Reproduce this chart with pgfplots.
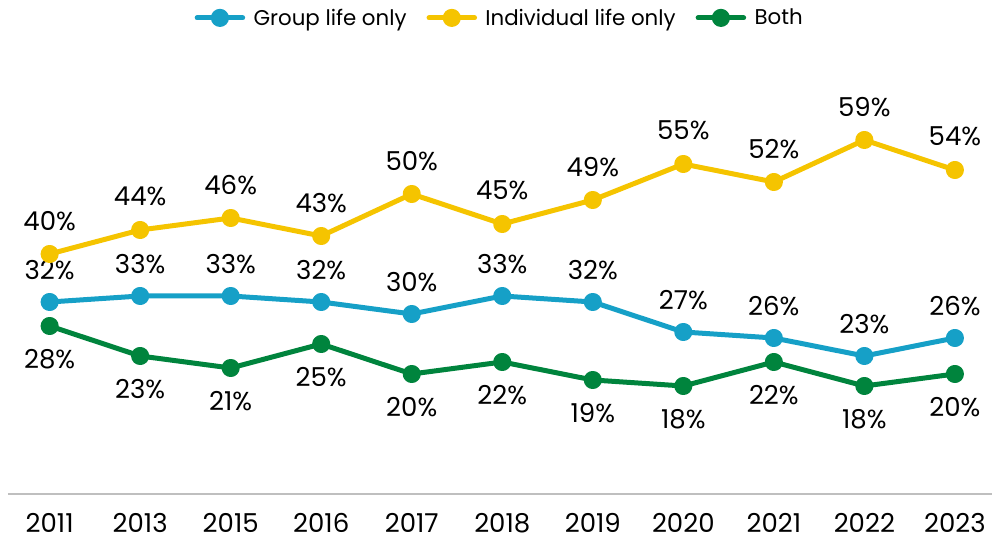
\documentclass[border=0pt]{standalone}
\usepackage{fontspec}
\setmainfont{Poppins}
\usepackage{pgfplots}
\pgfplotsset{compat=1.18}
\definecolor{cblue}{RGB}{22,160,199}
\definecolor{cyellow}{RGB}{245,196,0}
\definecolor{cgreen}{RGB}{0,132,61}
\newcommand\lbl{\fontsize{19.5pt}{22pt}\selectfont}
\newcommand\lgd{\fontsize{16pt}{19pt}\selectfont}
\begin{document}
\begin{tikzpicture}
\begin{axis}[
  at={(0,0)}, anchor=south west,
  width=738pt, height=337.5pt, scale only axis,
  xmin=-0.46, xmax=10.41, ymin=0, ymax=75,
  clip=false,
  /pgf/number format/assume math mode=true,
  axis x line*=bottom, axis y line=none,
  x axis line style={draw=black!25, line width=0.8pt, -},
  xtick={0,...,10},
  xticklabels={2011,2013,2015,2016,2017,2018,2019,2020,2021,2022,2023},
  major tick length=0pt,
  ytick=\empty,
  xticklabel style={font=\lbl, anchor=center, yshift=-22pt},
  legend style={at={(0.5,1.058)}, anchor=center, draw=none, fill=none, font=\lgd,
    legend columns=-1, /tikz/every even column/.append style={column sep=13pt}},
  legend image code/.code={\draw[mark repeat=2,mark phase=2,#1] plot coordinates {(0cm,0cm) (0.6cm,0cm) (1.2cm,0cm)};
    \path (1.35cm,0cm);},
  every axis plot/.append style={line width=3.75pt, mark=*, mark size=4.9pt, line join=round, line cap=round},
  point meta=y,
  nodes near coords={\pgfmathprintnumber{\pgfplotspointmeta}\%},
  every node near coord/.append style={font=\lbl, text=black, anchor=center},
]
\addplot[cblue, every node near coord/.append style={yshift=24pt}] coordinates {
(0,32) (1,33) (2,33) (3,32) (4,30) (5,33) (6,32) (7,27) (8,26) (9,23) (10,26)};
\addlegendentry{Group life only}
\addplot[cyellow, every node near coord/.append style={yshift=25pt}] coordinates {
(0,40) (1,44) (2,46) (3,43) (4,50) (5,45) (6,49) (7,55) (8,52) (9,59) (10,54)};
\addlegendentry{Individual life only}
\addplot[cgreen, every node near coord/.append style={yshift=-25pt}] coordinates {
(0,28) (1,23) (2,21) (3,25) (4,20) (5,22) (6,19) (7,18) (8,22) (9,18) (10,20)};
\addlegendentry{Both}
\end{axis}
\pgfresetboundingbox
\useasboundingbox (-6pt,-35.25pt) rectangle (738pt,370.5pt);
\end{tikzpicture}
\end{document}
